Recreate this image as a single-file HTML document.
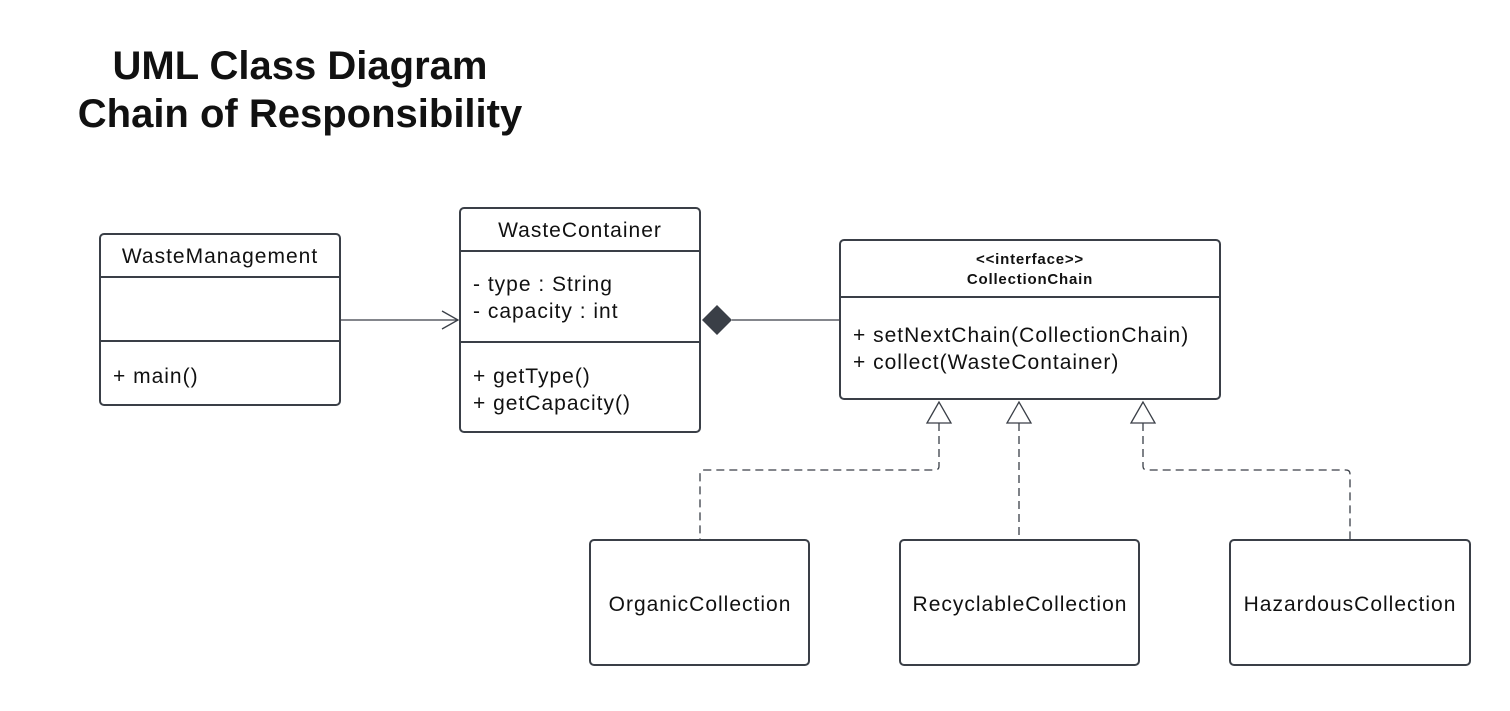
<!DOCTYPE html>
<html><head><style>
body{margin:0;background:#fff;}
svg text{font-family:"Liberation Sans",sans-serif;fill:#111;}
</style></head><body>
<svg width="1510" height="706" xmlns="http://www.w3.org/2000/svg">
<text x="300" y="79" font-size="40" font-weight="bold" text-anchor="middle">UML Class Diagram</text>
<text x="300" y="127" font-size="40" font-weight="bold" text-anchor="middle">Chain of Responsibility</text>
<g fill="#fff" stroke="#3a3f47" stroke-width="2">
<rect x="100" y="234" width="240" height="171" rx="4"/>
<line x1="100" y1="277" x2="340" y2="277"/><line x1="100" y1="341" x2="340" y2="341"/>
<rect x="460" y="208" width="240" height="224" rx="4"/>
<line x1="460" y1="251" x2="700" y2="251"/><line x1="460" y1="342" x2="700" y2="342"/>
<rect x="840" y="240" width="380" height="159" rx="4"/>
<line x1="840" y1="297" x2="1220" y2="297"/>
<rect x="590" y="540" width="219" height="125" rx="4"/>
<rect x="900" y="540" width="239" height="125" rx="4"/>
<rect x="1230" y="540" width="240" height="125" rx="4"/>
</g>
<g stroke="#3a3f47" stroke-width="1.3" fill="none">
<line x1="340" y1="320" x2="458" y2="320"/>
<polyline points="442,311 458,320 442,329"/>
<line x1="732" y1="320" x2="840" y2="320"/>
<g stroke-dasharray="8,5">
<path d="M939 423 V466 Q939 470 935 470 H704 Q700 470 700 474 V540"/>
<path d="M1019 423 V540"/>
<path d="M1143 423 V466 Q1143 470 1147 470 H1346 Q1350 470 1350 474 V540"/>
</g>
<polygon points="939,402 927,423 951,423" fill="#fff"/>
<polygon points="1019,402 1007,423 1031,423" fill="#fff"/>
<polygon points="1143,402 1131,423 1155,423" fill="#fff"/>
</g>
<polygon points="702,320 717,305 732,320 717,335" fill="#3a3f47"/>
<g font-size="21" letter-spacing="1">
<text x="220" y="263" text-anchor="middle">WasteManagement</text>
<text x="113" y="383">+ main()</text>
<text x="580" y="237" text-anchor="middle">WasteContainer</text>
<text x="473" y="291">- type : String</text>
<text x="473" y="318">- capacity : int</text>
<text x="473" y="383">+ getType()</text>
<text x="473" y="410">+ getCapacity()</text>
<text x="853" y="342">+ setNextChain(CollectionChain)</text>
<text x="853" y="369">+ collect(WasteContainer)</text>
<text x="700" y="611" text-anchor="middle">OrganicCollection</text>
<text x="1020" y="611" text-anchor="middle">RecyclableCollection</text>
<text x="1350" y="611" text-anchor="middle">HazardousCollection</text>
</g>
<text x="1030" y="264" font-size="15" font-weight="bold" letter-spacing="0.8" text-anchor="middle">&lt;&lt;interface&gt;&gt;</text>
<text x="1030" y="284" font-size="15" font-weight="bold" letter-spacing="0.8" text-anchor="middle">CollectionChain</text>
</svg>
</body></html>
